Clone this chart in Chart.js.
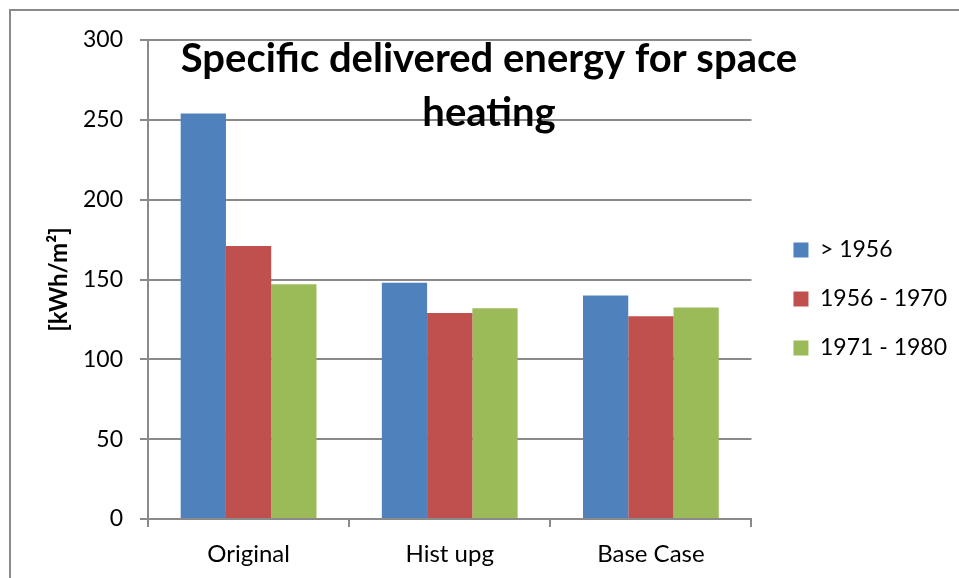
<!DOCTYPE html>
<html>
<head>
<meta charset="utf-8">
<script src="https://cdn.jsdelivr.net/npm/chart.js@4"></script>
<style>
  html, body { margin: 0; padding: 0; background: #fff; }
  #grafico { display: block; }
</style>
</head>
<body>
<canvas id="grafico" width="959" height="578"></canvas>
<script>
// --- Dados do gráfico ---
const categorias = ['Original', 'Hist upg', 'Base Case'];
const series = ['> 1956', '1956 - 1970', '1971 - 1980'];
const valoresAntes1956 = [254, 148, 140];
const valores1956a1970 = [171, 129, 127];
const valores1971a1980 = [147, 132, 132.5];
const ticksY = [0, 50, 100, 150, 200, 250, 300];
const tituloLinhas = ['Specific delivered energy for space', 'heating'];

const cores = ['#4F81BD', '#C0504D', '#9BBB59'];
const cinza = '#8a8a8a';
const fonte = 'Lato';

// moldura + fundo branco
const moldura = {
    id: 'moldura',
    beforeDraw(chart) {
        const c = chart.ctx;
        c.save();
        c.fillStyle = '#fff';
        c.fillRect(0, 0, chart.width, chart.height);
        c.strokeStyle = cinza;
        c.lineWidth = 2;
        c.strokeRect(10, 10, chart.width + 20, chart.height + 20);
        c.restore();
    }
};

// ajusta a caixa da legenda: mais afastada do gráfico e um pouco mais alta
const deslocaLegenda = {
    id: 'deslocaLegenda',
    afterLayout(chart) {
        const lg = chart.legend;
        if (lg) {
            lg.left += 16;
            lg.right += 16;
            lg.bottom -= 20;
            lg.height -= 20;
        }
    }
};

// título sobreposto à área do gráfico (como no Excel)
const tituloSobreposto = {
    id: 'tituloSobreposto',
    afterDraw(chart) {
        const c = chart.ctx;
        c.save();
        c.fillStyle = '#000';
        c.font = 'bold 40px ' + fonte;
        c.textAlign = 'center';
        c.textBaseline = 'middle';
        const cx = 489;
        c.fillText(tituloLinhas[0], cx, 59);
        c.fillText(tituloLinhas[1], cx, 113);
        c.restore();
    }
};

const dados = {
    labels: categorias,
    datasets: [
        { label: series[0], data: valoresAntes1956, backgroundColor: cores[0] },
        { label: series[1], data: valores1956a1970, backgroundColor: cores[1] },
        { label: series[2], data: valores1971a1980, backgroundColor: cores[2] }
    ]
};

new Chart(document.getElementById('grafico'), {
    type: 'bar',
    data: dados,
    options: {
        responsive: false,
        animation: false,
        layout: { padding: { top: 40, left: 10, right: 18, bottom: 0 } },
        datasets: {
            bar: { categoryPercentage: 0.675, barPercentage: 1 }
        },
        plugins: {
            legend: {
                position: 'right',
                labels: {
                    color: '#000',
                    font: { family: fonte, size: 23 },
                    boxWidth: 15,
                    boxHeight: 15,
                    padding: 26
                }
            },
            title: { display: false },
            tooltip: { enabled: false }
        },
        scales: {
            x: {
                afterFit(scale) { scale.height = 59; },
                grid: {
                    offset: true,
                    drawOnChartArea: false,
                    tickLength: 8,
                    color: cinza,
                    lineWidth: 2
                },
                border: { color: cinza, width: 2 },
                ticks: {
                    color: '#000',
                    font: { family: fonte, size: 24 },
                    padding: 13
                }
            },
            y: {
                min: 0,
                max: 300,
                afterFit(scale) { scale.width = 138; },
                afterBuildTicks(scale) { scale.ticks = ticksY.map(v => ({ value: v })); },
                grid: { color: cinza, lineWidth: 2, tickLength: 8 },
                border: { color: cinza, width: 2 },
                ticks: {
                    color: '#000',
                    font: { family: fonte, size: 23 },
                    padding: 17
                },
                title: {
                    display: true,
                    text: '[kWh/m²]',
                    color: '#000',
                    font: { family: fonte, size: 24, weight: 'bold' },
                    padding: { top: 35, bottom: 0 }
                }
            }
        }
    },
    plugins: [moldura, deslocaLegenda, tituloSobreposto]
});
</script>
</body>
</html>
